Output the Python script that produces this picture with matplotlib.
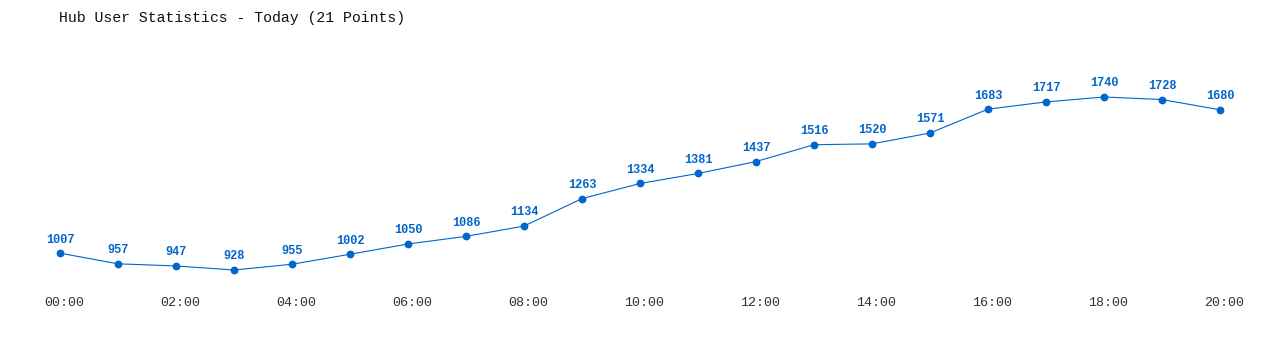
import matplotlib
matplotlib.use("Agg")
import matplotlib.pyplot as plt
import matplotlib.transforms as mtransforms

hours = list(range(21))
users = [1007, 957, 947, 928, 955, 1002, 1050, 1086, 1134, 1263, 1334,
         1381, 1437, 1516, 1520, 1571, 1683, 1717, 1740, 1728, 1680]
tick_hours = list(range(0, 21, 2))
tick_labels = [f"{h:02d}:00" for h in tick_hours]
title = "Hub User Statistics - Today (21 Points)"

blue = "#0066cc"
mono = ["Liberation Mono", "DejaVu Sans Mono"]

fig = plt.figure(figsize=(12.8, 3.5), dpi=100)
# axes occupies pixel rows 0..290 of the 350px figure
ax = fig.add_axes([0, 60 / 350, 1, 290 / 350])
ax.set_xlim(-60 / 58, 20 + 60 / 58)
ax.set_ylim(834.1, 2195.3)

ax.plot(hours, users, color=blue, lw=0.8, marker="o", ms=4.6, mec=blue, mfc=blue)
for h, v in zip(hours, users):
    ax.annotate(str(v), (h, v), xytext=(0, 5.5), textcoords="offset points",
                ha="center", va="bottom", color=blue, fontsize=8.6,
                fontweight="bold", family=mono)

for s in ax.spines.values():
    s.set_visible(False)
ax.set_yticks([])
ax.set_xticks(tick_hours)
ax.set_xticklabels(tick_labels, family=mono, fontsize=9.6, color="#333333")
ax.tick_params(axis="x", length=0, pad=5)
# the time labels sit a few pixels right of their points
shift = mtransforms.ScaledTranslation(4 / 100, 0, fig.dpi_scale_trans)
for lbl in ax.get_xticklabels():
    lbl.set_transform(lbl.get_transform() + shift)

fig.text(59 / 1280, 1 - 18 / 350, title, ha="left", va="center",
         fontsize=10.7, family=mono, color="#111111")

fig.savefig("out.png", dpi=100)
